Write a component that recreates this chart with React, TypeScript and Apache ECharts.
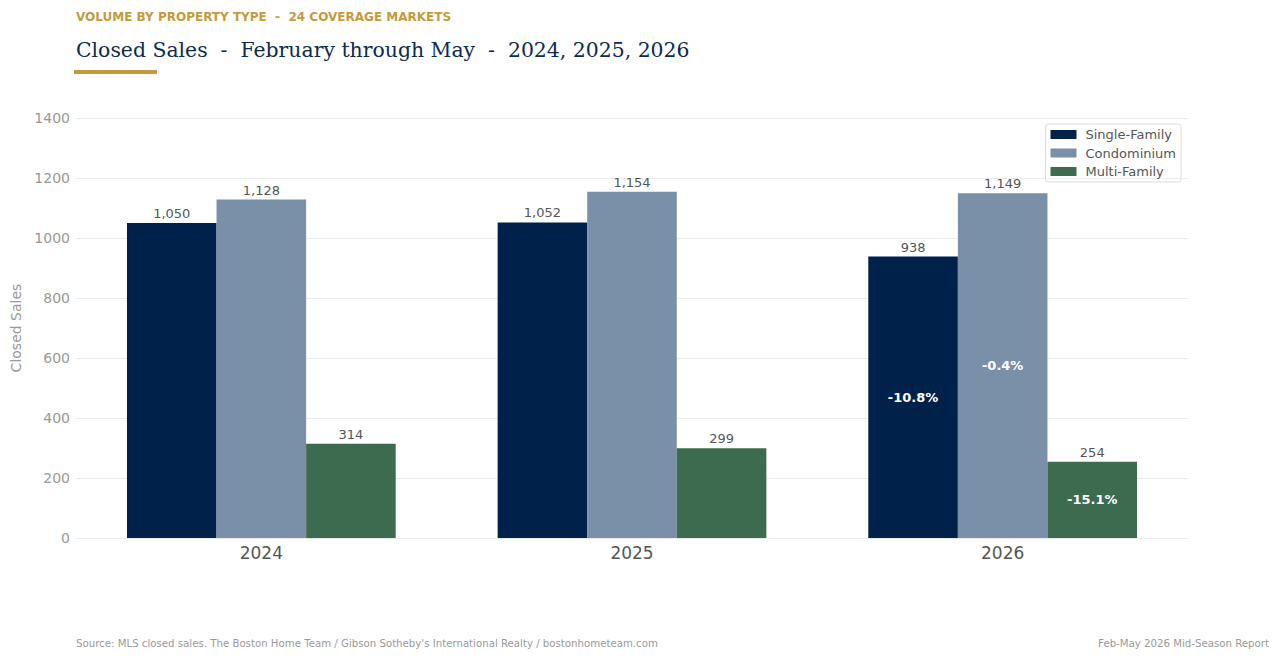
import React, { useEffect, useRef } from "react";
import * as echarts from "echarts";

const years = ["2024", "2025", "2026"];
const singleFamily = [1050, 1052, 938];
const condominium = [1128, 1154, 1149];
const multiFamily = [314, 299, 254];
const sfChange = ["", "", "-10.8%"];
const condoChange = ["", "", "-0.4%"];
const mfChange = ["", "", "-15.1%"];
const yTicks = [0, 200, 400, 600, 800, 1000, 1200, 1400];

const COLORS = ["#00224a", "#7a8fa8", "#3d6b50"];
const FONT = "DejaVu Sans";

export default function App() {
  const ref = useRef<HTMLDivElement>(null);
  useEffect(() => {
    if (!ref.current) return;
    const chart = echarts.init(ref.current, null, { renderer: "svg" });
    const grid = { left: 76, right: 92, top: 118, bottom: 122, outerBoundsMode: "none", containLabel: false };
    const names = ["Single-Family", "Condominium", "Multi-Family"];
    const datasets = [singleFamily, condominium, multiFamily];
    const changes = [sfChange, condoChange, mfChange];
    const mainSeries = datasets.map((d, i) => ({
      name: names[i],
      type: "bar",
      xAxisIndex: 0,
      yAxisIndex: 0,
      data: d,
      barGap: "0%",
      barCategoryGap: "27.5%",
      itemStyle: { color: COLORS[i] },
      label: {
        show: true,
        position: "top",
        distance: 3,
        color: "#555",
        fontFamily: FONT,
        fontSize: 13,
        formatter: (p: any) => Number(p.value).toLocaleString("en-US"),
      },
    }));
    const overlaySeries = datasets.map((d, i) => ({
      name: names[i] + "-pct",
      type: "bar",
      xAxisIndex: 1,
      yAxisIndex: 1,
      data: d,
      barGap: "0%",
      barCategoryGap: "27.5%",
      itemStyle: { color: "rgba(0,0,0,0)" },
      silent: true,
      label: {
        show: true,
        position: "inside",
        color: "#ffffff",
        fontWeight: "bold",
        fontFamily: FONT,
        fontSize: 13,
        formatter: (p: any) => changes[i][p.dataIndex],
      },
    }));
    chart.setOption({
      animation: false,
      textStyle: { fontFamily: FONT },
      grid: [grid, grid],
      legend: {
        data: names,
        right: 99,
        top: 124,
        orient: "vertical",
        itemWidth: 26,
        itemHeight: 9,
        itemGap: 5.5,
        padding: [4, 5, 4, 5],
        borderColor: "#e0ddd5",
        borderWidth: 1,
        borderRadius: 3,
        textStyle: { color: "#555", fontSize: 13, fontFamily: FONT, padding: [0, 0, 0, 4] },
        icon: "rect",
      },
      xAxis: [
        {
          type: "category",
          data: years,
          gridIndex: 0,
          axisLine: { show: false },
          axisTick: { show: false },
          axisLabel: { color: "#555", fontSize: 17, margin: 6, fontFamily: FONT },
        },
        {
          type: "category",
          data: years,
          gridIndex: 1,
          show: false,
        },
      ],
      yAxis: [
        {
          type: "value",
          gridIndex: 0,
          min: yTicks[0],
          max: yTicks[yTicks.length - 1],
          interval: 200,
          name: "Closed Sales",
          nameLocation: "middle",
          nameGap: 51,
          nameTextStyle: { color: "#999", fontSize: 14, fontFamily: FONT },
          axisLabel: {
            color: "#999",
            fontSize: 14,
            margin: 6,
            fontFamily: FONT,
            formatter: (v: number) => String(v),
          },
          splitLine: { lineStyle: { color: "#ebebeb", width: 1 } },
          axisLine: { show: false },
          axisTick: { show: false },
        },
        {
          type: "value",
          gridIndex: 1,
          min: yTicks[0],
          max: yTicks[yTicks.length - 1],
          interval: 200,
          show: false,
          splitLine: { show: false },
        },
      ],
      series: [...mainSeries, ...overlaySeries],
      graphic: [
        {
          type: "text",
          left: 76,
          top: 11,
          style: {
            text: "VOLUME BY PROPERTY TYPE  -  24 COVERAGE MARKETS",
            fill: "#c49a3c",
            font: `bold 12px "${FONT}"`,
          },
        },
        {
          type: "text",
          left: 76,
          top: 40,
          style: {
            text: "Closed Sales  -  February through May  -  2024, 2025, 2026",
            fill: "#0d2a4f",
            font: `20.4px "DejaVu Serif"`,
          },
        },
        {
          type: "rect",
          left: 74,
          top: 70,
          shape: { width: 83, height: 4 },
          style: { fill: "#c49a3c" },
        },
        {
          type: "text",
          left: 76,
          top: 638,
          style: {
            text: "Source: MLS closed sales. The Boston Home Team / Gibson Sotheby's International Realty / bostonhometeam.com",
            fill: "#999",
            font: `10.2px "${FONT}"`,
          },
        },
        {
          type: "text",
          right: 11,
          top: 638,
          style: {
            text: "Feb-May 2026 Mid-Season Report",
            fill: "#999",
            font: `10.2px "${FONT}"`,
          },
        },
      ],
    });
    return () => chart.dispose();
  }, []);
  return (
    <div
      ref={ref}
      style={{ position: "absolute", left: 0, top: 0, width: 1280, height: 660, background: "#fff" }}
    />
  );
}
